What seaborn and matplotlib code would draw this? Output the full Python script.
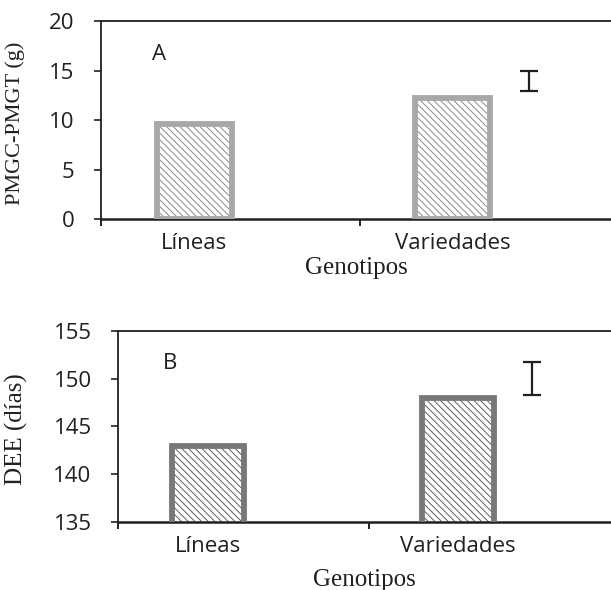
import matplotlib
matplotlib.use('Agg')
import matplotlib.pyplot as plt
import seaborn as sns

# ---- Datos ----
genotipos = ['Líneas', 'Variedades']
pmgc_pmgt = [9.6, 12.2]        # panel A (g)
dee = [143.0, 148.0]           # panel B (días)
dms_a = [13.95, 1.05]          # barra de DMS panel A: centro, semiamplitud
dms_b = [150.0, 1.75]          # barra de DMS panel B: centro, semiamplitud
yticks_a = [0, 5, 10, 15, 20]
yticks_b = [135, 140, 145, 150, 155]

sns.set_style('white')
plt.rcParams['font.family'] = ['Open Sans', 'DejaVu Sans']
plt.rcParams['hatch.linewidth'] = 0.7
serif = ['Liberation Serif', 'DejaVu Serif']
negro = '#231f20'

fig = plt.figure(figsize=(6.11, 5.90), dpi=100)
ax_a = fig.add_axes([0.1653, 0.6288, 0.8347, 0.3356])
ax_b = fig.add_axes([0.1931, 0.1153, 0.8069, 0.3237])


def panel(ax, valores, borde, rayado, dms, yticks, letra, letra_xy, ylab, ylab_size, ylab_x):
    # relleno rayado
    sns.barplot(x=genotipos, y=valores, ax=ax, width=0.29, color='white',
                edgecolor=rayado, linewidth=0, hatch='\\\\\\\\\\', errorbar=None, zorder=2)
    # contorno grueso
    sns.barplot(x=genotipos, y=valores, ax=ax, width=0.29, color=borde,
                fill=False, linewidth=4.2, errorbar=None, zorder=3)
    ax.errorbar([1.295], [dms[0]], yerr=[dms[1]], fmt='none', ecolor=negro,
                elinewidth=1.6, capsize=6.5, capthick=1.6, zorder=4)

    ax.set_ylim(yticks[0], yticks[-1])
    ax.set_yticks(yticks)
    ax.set_xlim(-0.36, 1.612)
    ax.set_xticks([0, 1])
    ax.set_xticklabels(genotipos)
    ax.set_xticks([-0.36, 0.643], minor=True)
    ax.tick_params(axis='x', which='major', length=0, pad=10, labelsize=16, colors=negro)
    ax.tick_params(axis='x', which='minor', length=5, width=1.4, direction='out',
                   color=negro, bottom=True)
    ax.tick_params(axis='y', length=5, width=1.2, direction='out', pad=14,
                   labelsize=16, colors=negro, left=True)

    for lado in ['left', 'top', 'bottom']:
        ax.spines[lado].set_visible(True)
        ax.spines[lado].set_color(negro)
    ax.spines['left'].set_linewidth(1.3)
    ax.spines['top'].set_linewidth(1.3)
    ax.spines['bottom'].set_linewidth(1.8)
    ax.spines['right'].set_visible(False)

    ax.text(letra_xy[0], letra_xy[1], letra, fontsize=16, color=negro,
            ha='center', va='center')
    ax.set_ylabel(ylab, family=serif, fontsize=ylab_size, color=negro)
    ax.yaxis.set_label_coords(ylab_x, 0.485)
    ax.set_xlabel('Genotipos', family=serif, fontsize=18, color=negro)


panel(ax_a, pmgc_pmgt, '#a7a8aa', '#8c8c8c', dms_a, yticks_a, 'A', (-0.136, 16.6),
      'PMGC-PMGT (g)', 16, -0.149)
ax_a.xaxis.labelpad = 2

panel(ax_b, dee, '#77787b', '#5e5e5e', dms_b, yticks_b, 'B', (-0.15, 151.6),
      'DEE (días)', 18, -0.1826)
ax_b.xaxis.labelpad = 9

fig.savefig('out.png', dpi=100)
